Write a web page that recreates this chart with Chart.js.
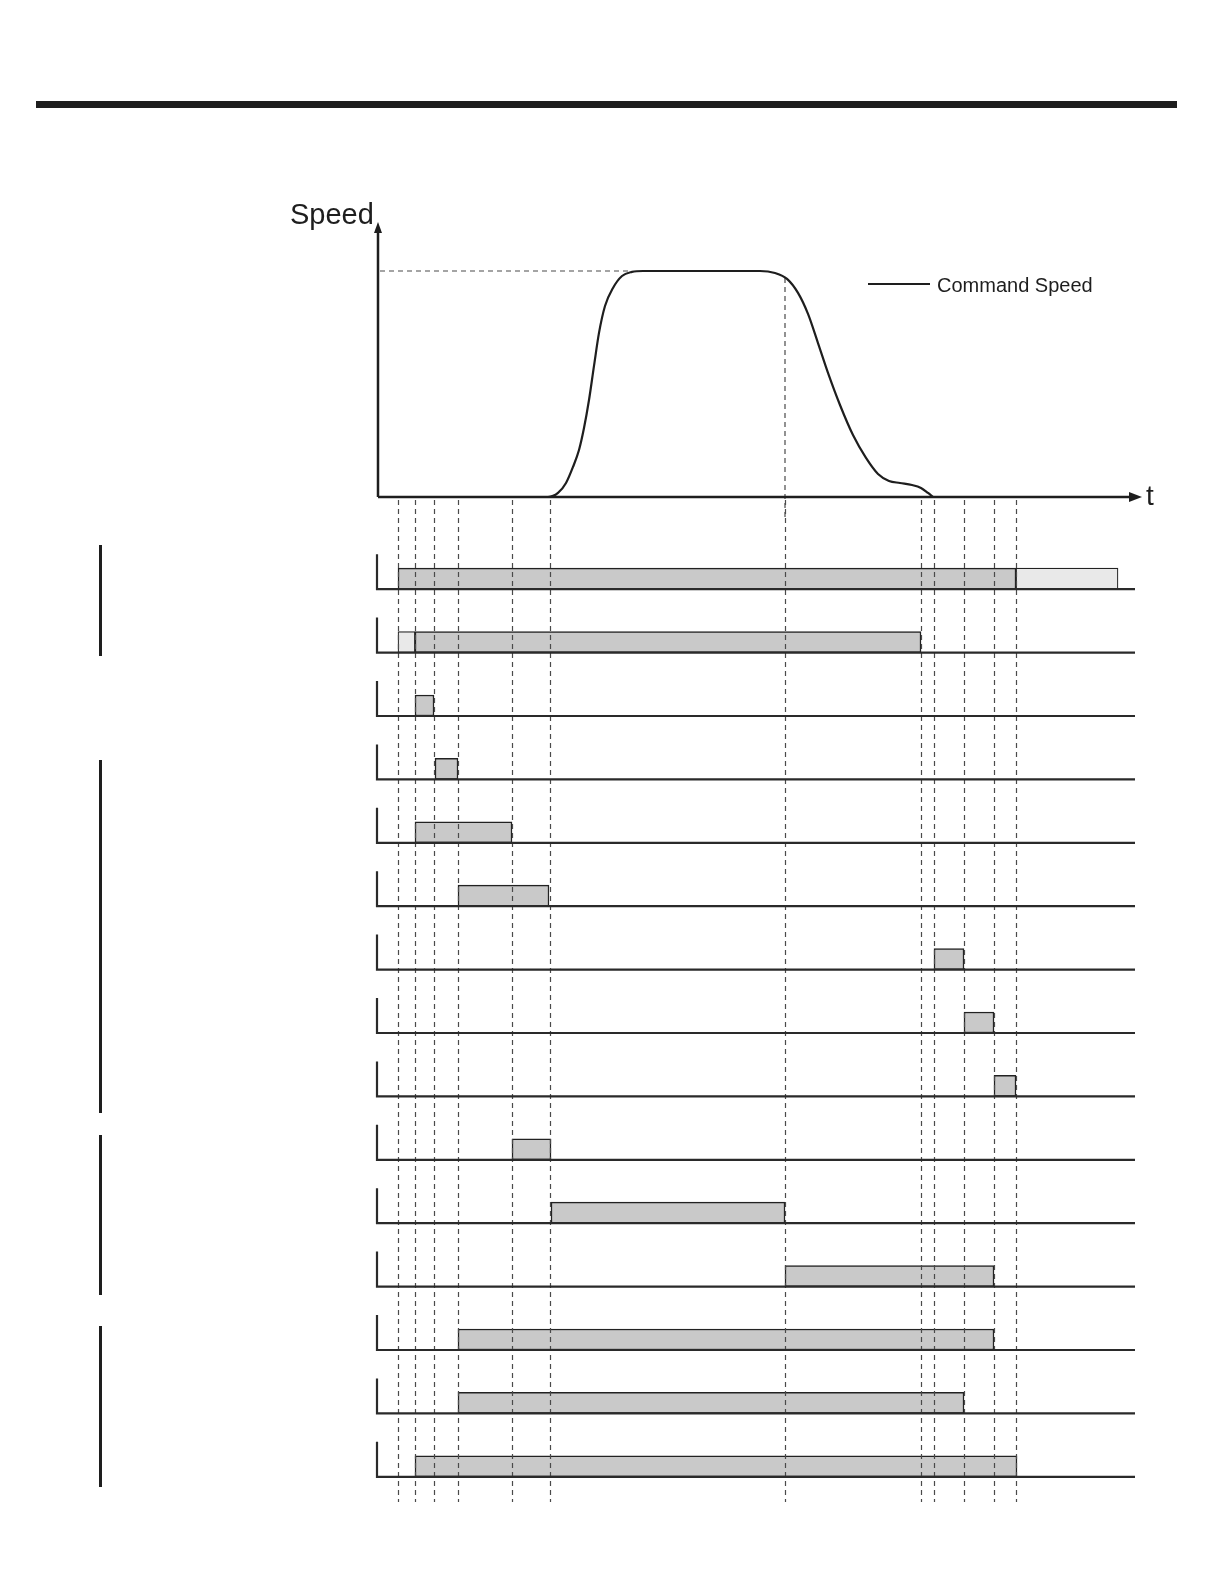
<!DOCTYPE html>
<html>
<head>
<meta charset="utf-8">
<title>Speed timing chart</title>
<script src="https://cdn.jsdelivr.net/npm/chart.js@4.4.0/dist/chart.umd.min.js"></script>
<style>
  body { margin: 0; background: #fff; width: 1224px; height: 1584px; position: relative; overflow: hidden;
         font-family: "Liberation Sans", Arial, sans-serif; }
  .rule { position: absolute; left: 36px; top: 101px; width: 1141px; height: 7px; background: #1e1e1e; }
  .bracket { position: absolute; left: 99px; width: 3px; background: #1e1e1e; }
  #speedWrap { position: absolute; left: 0; top: 0; }
  #rowsWrap { position: absolute; left: 0; top: 497px; }
</style>
</head>
<body>
<div class="rule"></div>
<div class="bracket" style="top:545px;height:111px"></div>
<div class="bracket" style="top:760px;height:353px"></div>
<div class="bracket" style="top:1135px;height:160px"></div>
<div class="bracket" style="top:1326px;height:161px"></div>

<div id="speedWrap"><canvas id="speedChart" width="1224" height="520"></canvas></div>
<div id="rowsWrap"><canvas id="rowsChart" width="1224" height="1087"></canvas></div>

<script>
// --- 1. DATOS ---

// eje de tiempo (unidades arbitrarias), 0 .. 76
const T_MIN = 0;
const T_MAX = 76;

// curva de velocidad comandada (% de la velocidad maxima)
const speedTime  = [0, 17.0, 18.0, 18.8, 19.5, 20.1, 20.6, 21.1, 21.6, 22.1, 22.7, 23.5, 24.4, 25.4, 26.5,
                    38.2, 39.7, 40.9, 42.0, 43.0, 44.0, 45.0, 46.2, 47.5, 48.8, 50.0, 51.1, 52.2, 53.4, 54.3, 55.0, 55.5];
const speedValue = [0, 0,    1.8,  6.2,  13.3, 20.8, 30.5, 42.9, 58.0, 72.6, 84.5, 92.5, 97.8, 99.6, 100,
                    100,  99.1, 96.5, 90.3, 81.0, 68.1, 54.9, 40.7, 27.4, 17.3, 10.2, 7.1,  6.2,  5.3,  4.0,  1.8,  0];

// instantes marcados con lineas discontinuas
const markerTime = [2.0, 3.7, 5.6, 8.0, 13.4, 17.2, 40.7, 54.3, 55.6, 58.6, 61.6, 63.8];

// filas de senales (sin texto en la figura)
const rowLabels = ['S1', 'S2', 'S3', 'S4', 'S5', 'S6', 'S7', 'S8', 'S9', 'S10', 'S11', 'S12', 'S13', 'S14', 'S15'];

// tramos activos (gris)
const activeRow   = [0,    1,    2,   3,   4,    5,    6,    7,    8,    9,    10,   11,   12,   13,   14];
const activeStart = [2.0,  3.7,  3.7, 5.7, 3.7,  8.0,  55.6, 58.6, 61.6, 13.4, 17.3, 40.7, 8.0,  8.0,  3.7];
const activeEnd   = [63.8, 54.3, 5.6, 8.0, 13.4, 17.1, 58.6, 61.6, 63.8, 17.3, 40.7, 61.6, 61.6, 58.6, 63.9];

// tramos de espera (gris claro)
const standbyRow   = [0,    1];
const standbyStart = [63.8, 2.0];
const standbyEnd   = [74.0, 3.7];

// --- 2. ESTILOS ---
const INK = '#1e1e1e';
const DASH = '#4a4a4a';
const FILL_ACTIVE = '#c9c9c9';
const FILL_STANDBY = '#e9e9e9';
const FONT = '"Liberation Sans", Arial, sans-serif';
const BAR_H = 21;

function dashedLine(ctx, x1, y1, x2, y2) {
  ctx.save();
  ctx.strokeStyle = DASH;
  ctx.lineWidth = 1.2;
  ctx.setLineDash([5, 4]);
  ctx.beginPath();
  ctx.moveTo(x1, y1);
  ctx.lineTo(x2, y2);
  ctx.stroke();
  ctx.restore();
}

function speedAt(t) {
  for (let i = 1; i < speedTime.length; i++) {
    if (t <= speedTime[i]) {
      const f = (t - speedTime[i - 1]) / (speedTime[i] - speedTime[i - 1]);
      return speedValue[i - 1] + f * (speedValue[i] - speedValue[i - 1]);
    }
  }
  return 0;
}

// --- 3. GRAFICO DE VELOCIDAD ---
const speedDecor = {
  id: 'speedDecor',
  beforeDatasetsDraw(chart) {
    const { ctx, scales: { x, y } } = chart;
    // linea de velocidad maxima
    const vMax = Math.max(...speedValue);
    const reachIdx = speedValue.findIndex(v => v >= vMax - 0.5);
    dashedLine(ctx, x.getPixelForValue(T_MIN) + 2, y.getPixelForValue(vMax), x.getPixelForValue(speedTime[reachIdx]), y.getPixelForValue(vMax));
    // marcas que cortan la curva
    markerTime.forEach(t => {
      const v = speedAt(t);
      if (v > 10) dashedLine(ctx, x.getPixelForValue(t), y.getPixelForValue(v), x.getPixelForValue(t), chart.height);
    });
  },
  afterDatasetsDraw(chart) {
    const { ctx, scales: { x, y } } = chart;
    const x0 = x.getPixelForValue(T_MIN);
    const y0 = y.getPixelForValue(0);
    ctx.save();
    ctx.strokeStyle = INK;
    ctx.fillStyle = INK;
    ctx.lineWidth = 2.5;
    // ejes
    ctx.beginPath();
    ctx.moveTo(x0, y0);
    ctx.lineTo(x0, 230);
    ctx.moveTo(x0, y0);
    ctx.lineTo(1132, y0);
    ctx.stroke();
    // flechas
    ctx.beginPath();
    ctx.moveTo(x0, 222); ctx.lineTo(x0 - 4, 233); ctx.lineTo(x0 + 4, 233); ctx.closePath();
    ctx.fill();
    ctx.beginPath();
    ctx.moveTo(1142, y0); ctx.lineTo(1129, y0 - 5); ctx.lineTo(1129, y0 + 5); ctx.closePath();
    ctx.fill();
    // textos de ejes
    ctx.font = '29px ' + FONT;
    ctx.textBaseline = 'alphabetic';
    ctx.fillText('Speed', 290, 224);
    ctx.font = '28px ' + FONT;
    ctx.fillText('t', 1146, 505);
    // leyenda
    ctx.lineWidth = 2;
    ctx.beginPath();
    ctx.moveTo(868, 284);
    ctx.lineTo(930, 284);
    ctx.stroke();
    ctx.font = '20px ' + FONT;
    ctx.textBaseline = 'middle';
    ctx.fillText(chart.data.datasets[0].label, 937, 286);
    ctx.restore();
  }
};

new Chart(document.getElementById('speedChart').getContext('2d'), {
  type: 'line',
  data: {
    datasets: [{
      label: 'Command Speed',
      data: speedTime.map((t, i) => ({ x: t, y: speedValue[i] })),
      borderColor: INK,
      borderWidth: 2.2,
      pointRadius: 0,
      fill: false,
      cubicInterpolationMode: 'monotone',
      clip: false
    }]
  },
  options: {
    responsive: false,
    animation: false,
    layout: { padding: { left: 378, right: 86, top: 271, bottom: 23 } },
    plugins: { legend: { display: false }, tooltip: { enabled: false } },
    scales: {
      x: { type: 'linear', min: T_MIN, max: T_MAX, display: false },
      y: { type: 'linear', min: 0, max: 100, display: false }
    }
  },
  plugins: [speedDecor]
});

// --- 4. DIAGRAMA DE SENALES ---
const rowDecor = {
  id: 'rowDecor',
  afterDatasetsDraw(chart) {
    const { ctx, scales: { x, y } } = chart;
    // lineas de tiempo discontinuas
    markerTime.forEach(t => {
      const px = Math.round(x.getPixelForValue(t)) + 0.5;
      dashedLine(ctx, px, 3, px, 1005);
    });
    // ejes de cada fila
    ctx.save();
    ctx.strokeStyle = '#2a2a2a';
    ctx.lineWidth = 2.2;
    rowLabels.forEach((lbl, i) => {
      const base = y.getPixelForValue(i) + BAR_H / 2;
      const x0 = x.getPixelForValue(T_MIN) - 1;
      ctx.beginPath();
      ctx.moveTo(x0, base - 35);
      ctx.lineTo(x0, base);
      ctx.lineTo(1135, base);
      ctx.stroke();
    });
    ctx.restore();
  }
};

new Chart(document.getElementById('rowsChart').getContext('2d'), {
  type: 'bar',
  data: {
    labels: rowLabels,
    datasets: [{
      label: 'Activo',
      data: activeRow.map((r, i) => ({ y: rowLabels[r], x: [activeStart[i], activeEnd[i]] })),
      backgroundColor: FILL_ACTIVE,
      borderColor: '#222',
      borderWidth: 1.5,
      borderSkipped: false,
      barThickness: BAR_H,
      grouped: false
    }, {
      label: 'Espera',
      data: standbyRow.map((r, i) => ({ y: rowLabels[r], x: [standbyStart[i], standbyEnd[i]] })),
      backgroundColor: FILL_STANDBY,
      borderColor: '#222',
      borderWidth: 1.2,
      borderSkipped: false,
      barThickness: BAR_H,
      grouped: false
    }]
  },
  options: {
    indexAxis: 'y',
    responsive: false,
    animation: false,
    layout: { padding: { left: 378, right: 86, top: 50, bottom: 86 } },
    plugins: { legend: { display: false }, tooltip: { enabled: false } },
    scales: {
      x: { type: 'linear', min: T_MIN, max: T_MAX, display: false },
      y: { type: 'category', offset: true, display: false }
    }
  },
  plugins: [rowDecor]
});
</script>
</body>
</html>
